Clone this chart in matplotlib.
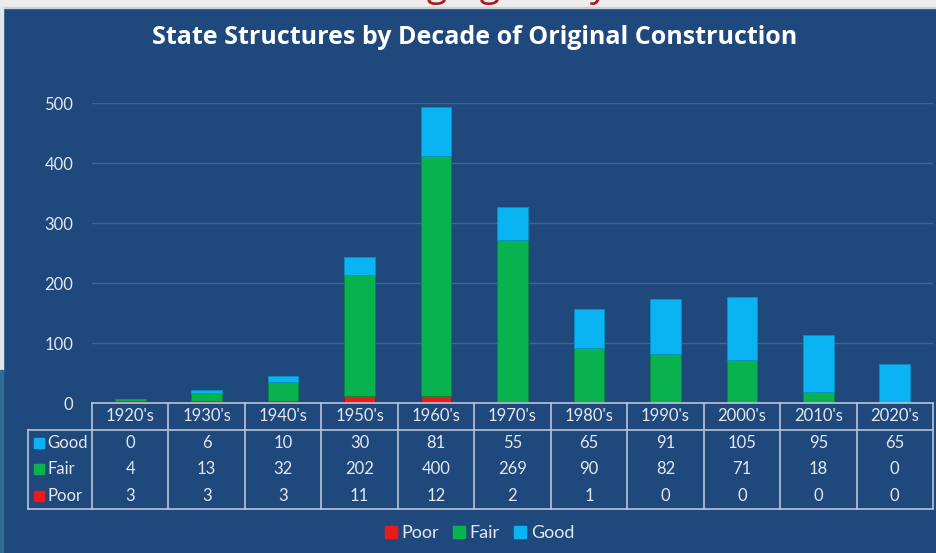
import matplotlib.pyplot as plt
from matplotlib.patches import Rectangle
from matplotlib.lines import Line2D

# data
decades = ["1920's", "1930's", "1940's", "1950's", "1960's", "1970's",
           "1980's", "1990's", "2000's", "2010's", "2020's"]
good = [0, 6, 10, 30, 81, 55, 65, 91, 105, 95, 65]
fair = [4, 13, 32, 202, 400, 269, 90, 82, 71, 18, 0]
poor = [3, 3, 3, 11, 12, 2, 1, 0, 0, 0, 0]
y_ticks = [0, 100, 200, 300, 400, 500]

BG = "#1f497d"
GRID = "#3d6494"
TXT = "#e4e8ee"
C_POOR = "#f01818"
C_FAIR = "#07b24f"
C_GOOD = "#0ab4f2"

plt.rcParams['font.family'] = ['Lato', 'DejaVu Sans']

fig = plt.figure(figsize=(9.37, 5.53), dpi=100)
fig.patch.set_facecolor(BG)

# slide bits around the chart (top strip with the cut slide heading)
strip = Rectangle((0, 1 - 7 / 553), 1, 7 / 553, transform=fig.transFigure,
                  color="#eeedeb", zorder=0)
fig.patches.append(strip)
fig.patches.append(Rectangle((0, 1 - 8 / 553), 1, 1 / 553, transform=fig.transFigure,
                             color="#c5cfdd", zorder=0))
fig.patches.append(Rectangle((0, 183 / 553), 3 / 937, (546 - 183) / 553,
                             transform=fig.transFigure, color="#dfe7ee", zorder=0))
fig.patches.append(Rectangle((0, 0), 3 / 937, 183 / 553,
                             transform=fig.transFigure, color="#2f6c95", zorder=0))
head = fig.text(0.54, 1 + 4 / 553, "Aging Study", color="#a81c22",
                fontsize=27, ha="center", va="baseline", family="Open Sans", zorder=1)
head.set_clip_path(strip)

ax = fig.add_axes([92 / 937, 150 / 553, 841 / 937, 300 / 553])
ax.set_facecolor(BG)
x = list(range(len(decades)))
w = 0.4
bottom_fair = poor
bottom_good = [p + f for p, f in zip(poor, fair)]
ax.bar(x, poor, w, color=C_POOR, label="Poor", zorder=3, edgecolor="#b00c10", linewidth=0.6)
ax.bar(x, fair, w, bottom=bottom_fair, color=C_FAIR, label="Fair", zorder=3,
       edgecolor="#058a3c", linewidth=0.6)
ax.bar(x, good, w, bottom=bottom_good, color=C_GOOD, label="Good", zorder=3,
       edgecolor="#0890c4", linewidth=0.6)

ax.set_xlim(-0.5, len(decades) - 0.5)
ax.set_ylim(0, 500)
ax.set_yticks(y_ticks)
ax.yaxis.grid(True, color=GRID, linewidth=1)
ax.set_axisbelow(True)
ax.tick_params(axis="y", length=0, pad=13.5, labelcolor=TXT, labelsize=12)
ax.set_xticks([])
for s in ax.spines.values():
    s.set_visible(False)

fig.text(0.507, 1 - 37 / 553, "State Structures by Decade of Original Construction",
         color="white", fontsize=18, fontweight="bold", family="Open Sans",
         ha="center", va="center")

# data table under the bars
tab = fig.add_axes([92 / 937, 44 / 553, 841 / 937, 106 / 553])
tab.set_xlim(-0.5, len(decades) - 0.5)
tab.set_ylim(4, 0)
tab.axis("off")
LN = "#b8c4d6"
left = -0.5 - 64 / 76.45
n = len(decades)
kw = dict(color=LN, linewidth=1.2, clip_on=False)
tab.plot([-0.5, n - 0.5], [0, 0], **kw)
tab.plot([-0.5, n - 0.5], [1, 1], **kw)
tab.plot([left, -0.5], [1, 1], **kw)
tab.plot([left, n - 0.5], [4, 4], **kw)
tab.plot([left, left], [1, 4], **kw)
for i in range(n + 1):
    tab.plot([i - 0.5, i - 0.5], [0, 4], **kw)

for i, d in enumerate(decades):
    tab.text(i, 0.5, d, color=TXT, fontsize=12, ha="center", va="center")
rows = [("Good", good, C_GOOD), ("Fair", fair, C_FAIR), ("Poor", poor, C_POOR)]
for r, (name, vals, c) in enumerate(rows):
    yy = r + 1.5
    tab.plot([left + 0.14], [yy], marker="s", markersize=7, color=c, clip_on=False,
             markeredgecolor=c)
    tab.text(left + 0.25, yy, name, color=TXT, fontsize=12, ha="left", va="center")
    for i, v in enumerate(vals):
        tab.text(i, yy, str(v), color=TXT, fontsize=12, ha="center", va="center")

handles = [Line2D([], [], marker="s", linestyle="", markersize=8, color=c)
           for c in (C_POOR, C_FAIR, C_GOOD)]
fig.legend(handles, ["Poor", "Fair", "Good"], loc="center", ncol=3,
           bbox_to_anchor=(0.51, 1 - 533 / 553), frameon=False, labelcolor=TXT,
           fontsize=13, handletextpad=0.1, columnspacing=0.6, handlelength=1.0)

fig.savefig("out.png", dpi=100, facecolor=fig.get_facecolor())
